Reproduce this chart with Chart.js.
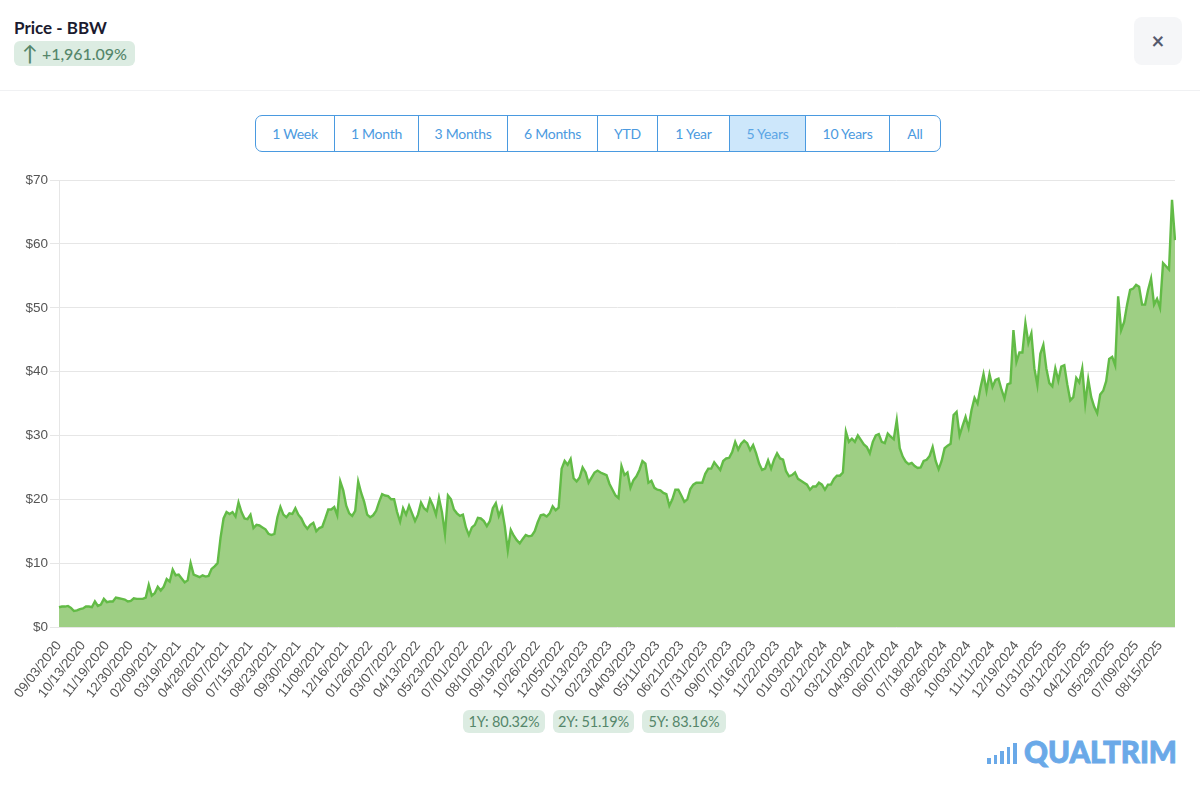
<!DOCTYPE html>
<html>
<head>
<meta charset="utf-8">
<title>Price - BBW</title>
<script src="https://cdn.jsdelivr.net/npm/chart.js@4"></script>
<style>
  html, body { margin: 0; padding: 0; background: #fff; }
  body { width: 1200px; height: 788px; position: relative; overflow: hidden; font-family: Lato, sans-serif; }
  .title { position: absolute; left: 14px; top: 17px; font-size: 17px; font-weight: 700; color: #1b1b2f; line-height: 22px; }
  .pill { position: absolute; background: #dcece2; color: #55866a; border-radius: 6px; text-align: center; }
  .change { left: 14px; top: 41px; width: 121px; height: 25px; line-height: 25px; font-size: 16px; font-weight: 500; white-space: nowrap; }
  .change span { position: absolute; left: 8px; top: -1px; font-size: 21px; }
  .change b { position: absolute; left: 28px; top: 0; font-weight: 500; letter-spacing: -0.05px; }
  .rule { position: absolute; left: 0; top: 90px; width: 1200px; height: 1px; background: #f0f1f3; }
  .close { position: absolute; left: 1134px; top: 17px; width: 48px; height: 48px; border-radius: 8px; background: #f5f6f8; color: #555a6e; font-size: 22px; font-weight: 700; line-height: 47px; text-align: center; }
  .ranges { position: absolute; left: 255px; top: 115px; width: 684px; height: 35px; border: 1px solid #4a9ae0; border-radius: 7px; display: flex; overflow: hidden; }
  .ranges div { box-sizing: border-box; border-right: 1px solid #4a9ae0; color: #4c9ae0; font-size: 14px; letter-spacing: -0.25px; line-height: 36px; text-align: center; }
  .ranges div:last-child { border-right: 0; }
  .ranges .on { background: #cde7fb; color: #5ba5e5; }
  .stat { top: 710px; height: 23px; line-height: 23px; font-size: 14.5px; letter-spacing: -0.2px; }
  .wrap { position: absolute; left: 0; top: 170px; width: 1200px; height: 535px; }
  .logo { position: absolute; left: 1024px; top: 735px; font-family: Lato, sans-serif; font-weight: 900; font-size: 29.5px; line-height: 34px; color: #6aa9e8; -webkit-text-stroke: 0.9px #6aa9e8; }
  .bar { position: absolute; width: 3.5px; background: #6aa9e8; }
</style>
</head>
<body>
<div class="title">Price - BBW</div>
<div class="pill change"><span>↑</span><b>+1,961.09%</b></div>
<div class="close">×</div>
<div class="rule"></div>
<div class="ranges" id="ranges"></div>
<div class="wrap"><canvas id="grafico"></canvas></div>
<div id="stats"></div>
<div class="bar" style="left:987px;top:758px;height:6px"></div>
<div class="bar" style="left:993.5px;top:755px;height:9px"></div>
<div class="bar" style="left:1000px;top:751px;height:13px"></div>
<div class="bar" style="left:1006.5px;top:747px;height:17px"></div>
<div class="bar" style="left:1013px;top:743px;height:21px"></div>
<div class="logo">QUALTRIM</div>
<script>
// ticks on the date axis, one every 8 points
const tickLabels = [
  '09/03/2020','10/13/2020','11/19/2020','12/30/2020','02/09/2021','03/19/2021','04/28/2021','06/07/2021',
  '07/15/2021','08/23/2021','09/30/2021','11/08/2021','12/16/2021','01/26/2022','03/07/2022','04/13/2022',
  '05/23/2022','07/01/2022','08/10/2022','09/19/2022','10/26/2022','12/05/2022','01/13/2023','02/23/2023',
  '04/03/2023','05/11/2023','06/21/2023','07/31/2023','09/07/2023','10/16/2023','11/22/2023','01/03/2024',
  '02/12/2024','03/21/2024','04/30/2024','06/07/2024','07/18/2024','08/26/2024','10/03/2024','11/11/2024',
  '12/19/2024','01/31/2025','03/12/2025','04/21/2025','05/29/2025','07/09/2025','08/15/2025'
];

// prices
const prices2020 = [
  3.1,3.2,3.2,3.3,3.0,2.5,2.6,2.8, 2.9,3.2,3.2,3.1,4.0,3.3,3.5,4.4,
  3.9,4.0,4.0,4.6,4.5,4.4,4.3,4.0, 4.1,4.5,4.4,4.4,4.4,4.6,6.6,4.9
];
const prices2021 = [
  5.3,6.3,5.7,6.3,7.5,7.1,9.0,8.1, 8.2,7.6,7.0,7.3,10.0,8.2,8.0,7.8,
  8.1,7.9,8.0,9.1,9.5,10.0,14.0,17.0, 18.0,17.7,18.0,17.3,19.5,18.0,17.0,16.9,
  17.6,15.5,16.0,15.9,15.6,15.3,14.6,14.4, 14.6,17.2,18.8,17.6,17.2,17.8,17.7,18.6,
  17.6,17.0,16.0,15.4,16.0,16.3,15.0,15.5, 15.7,17.0,18.4,18.4,18.8,17.5,22.8,21.4,
  19.0,17.8,17.4,18.2
];
const prices2022 = [
  22.8,21.0,19.6,17.6,17.2,17.5,18.2,19.6, 20.8,20.6,20.5,20.0,20.0,18.0,16.5,18.6,
  17.6,19.0,17.8,16.6,17.6,19.5,18.6,18.2, 20.0,19.0,17.6,20.2,18.0,14.6,20.6,20.0,
  18.4,17.8,17.4,17.6,15.6,14.4,15.6,16.0, 17.1,17.0,16.6,15.8,16.6,18.6,19.4,17.4,
  18.6,15.8,12.0,15.2,14.3,13.6,13.1,13.8, 14.4,14.2,14.3,15.0,16.4,17.5,17.6,17.3,
  17.8,18.9,18.3,18.7,24.8,26.0,25.4,26.3
];
const prices2023 = [
  23.3,22.8,23.4,25.0,24.2,22.6,23.4,24.2, 24.5,24.2,24.0,23.8,22.4,21.5,20.6,20.2,
  25.2,23.8,24.2,21.8,23.0,23.6,24.6,26.0, 25.6,22.6,22.9,21.8,21.5,21.4,21.0,20.8,
  19.0,20.0,21.5,21.5,20.6,19.6,20.0,21.6, 22.3,22.6,22.6,22.6,24.0,24.8,24.8,25.8,
  25.2,24.6,26.0,26.4,26.5,27.4,29.0,27.8, 28.7,29.2,28.8,27.7,28.5,27.2,25.6,24.6,
  24.8,26.1,24.8,26.2,27.2,26.4,26.2,24.4, 23.6,23.8,24.2,23.2
];
const prices2024 = [
  22.9,22.6,22.3,21.5,22.0,22.0,22.6,22.3, 21.5,22.3,22.3,23.2,23.7,23.7,24.2,30.6,
  29.0,29.5,29.0,30.0,29.3,28.6,28.2,27.2, 29.0,30.0,30.2,29.0,28.8,30.3,29.8,29.4,
  32.4,28.0,26.7,25.9,25.5,25.7,25.2,24.9, 25.0,26.0,26.2,26.8,28.2,26.0,24.7,26.0,
  28.0,28.4,28.7,33.2,33.7,30.0,31.5,32.9, 31.2,34.0,35.9,35.0,37.5,39.6,37.0,39.6,
  37.6,38.7,38.9,37.2,35.8,38.0,38.2,46.5, 41.5,43.0
];
const prices2025 = [
  43.0,47.6,44.5,46.0,40.5,37.9,42.8,44.2, 40.5,38.2,37.7,40.5,38.6,40.8,41.0,38.0,
  35.5,36.0,39.0,38.3,40.5,35.0,38.8,36.0, 34.5,33.5,36.4,37.0,38.5,42.0,42.3,41.0,
  51.8,46.5,47.8,50.5,52.8,53.0,53.6,53.3, 50.5,50.5,52.8,54.6,50.5,51.4,50.0,57.0,
  56.5,56.0,66.9,60.6
];
const prices = [...prices2020, ...prices2021, ...prices2022, ...prices2023, ...prices2024, ...prices2025];

const rangeNames = ['1 Week','1 Month','3 Months','6 Months','YTD','1 Year','5 Years','10 Years','All'];
const rangeWidths = [79,84,89,90,60,72,76,84,50];
const statTexts = ['1Y: 80.32%','2Y: 51.19%','5Y: 83.16%'];
const statBoxes = [[463,82],[553,81],[642,84]];

rangeNames.forEach((name, i) => {
  const d = document.createElement('div');
  d.textContent = name;
  d.style.width = rangeWidths[i] + 'px';
  if (name === '5 Years') d.className = 'on';
  document.getElementById('ranges').appendChild(d);
});
statTexts.forEach((t, i) => {
  const d = document.createElement('div');
  d.className = 'pill stat';
  d.textContent = t;
  d.style.left = statBoxes[i][0] + 'px';
  d.style.width = statBoxes[i][1] + 'px';
  document.getElementById('stats').appendChild(d);
});

const categorias = prices.map((_, i) => (i % 8 === 0 ? tickLabels[i / 8] : ''));

new Chart(document.getElementById('grafico'), {
  type: 'line',
  data: {
    labels: categorias,
    datasets: [{
      data: prices,
      borderColor: '#62bb46',
      backgroundColor: '#9ecf84',
      borderWidth: 2.4,
      fill: 'origin',
      tension: 0,
      pointRadius: 0
    }]
  },
  options: {
    responsive: true,
    maintainAspectRatio: false,
    animation: false,
    layout: { padding: { top: 10, right: 25, left: 0, bottom: 0 } },
    plugins: { legend: { display: false }, tooltip: { enabled: false } },
    scales: {
      x: {
        grid: { display: false },
        border: { display: false },
        afterFit: s => { s.height = 78; },
        ticks: {
          autoSkip: false,
          minRotation: 52,
          maxRotation: 52,
          padding: 3,
          color: '#555',
          font: { family: 'Liberation Sans', size: 13.5 },
          callback: function (v) { return this.getLabelForValue(v) || null; }
        }
      },
      y: {
        min: 0,
        max: 70,
        afterFit: s => { s.width = 59; },
        grid: { color: '#e6e6e6', tickLength: 9 },
        border: { color: '#e6e6e6' },
        ticks: {
          stepSize: 10,
          padding: 2,
          color: '#555',
          font: { family: 'Liberation Sans', size: 13.5 },
          callback: v => '$' + v
        }
      }
    }
  }
});
</script>
</body>
</html>
